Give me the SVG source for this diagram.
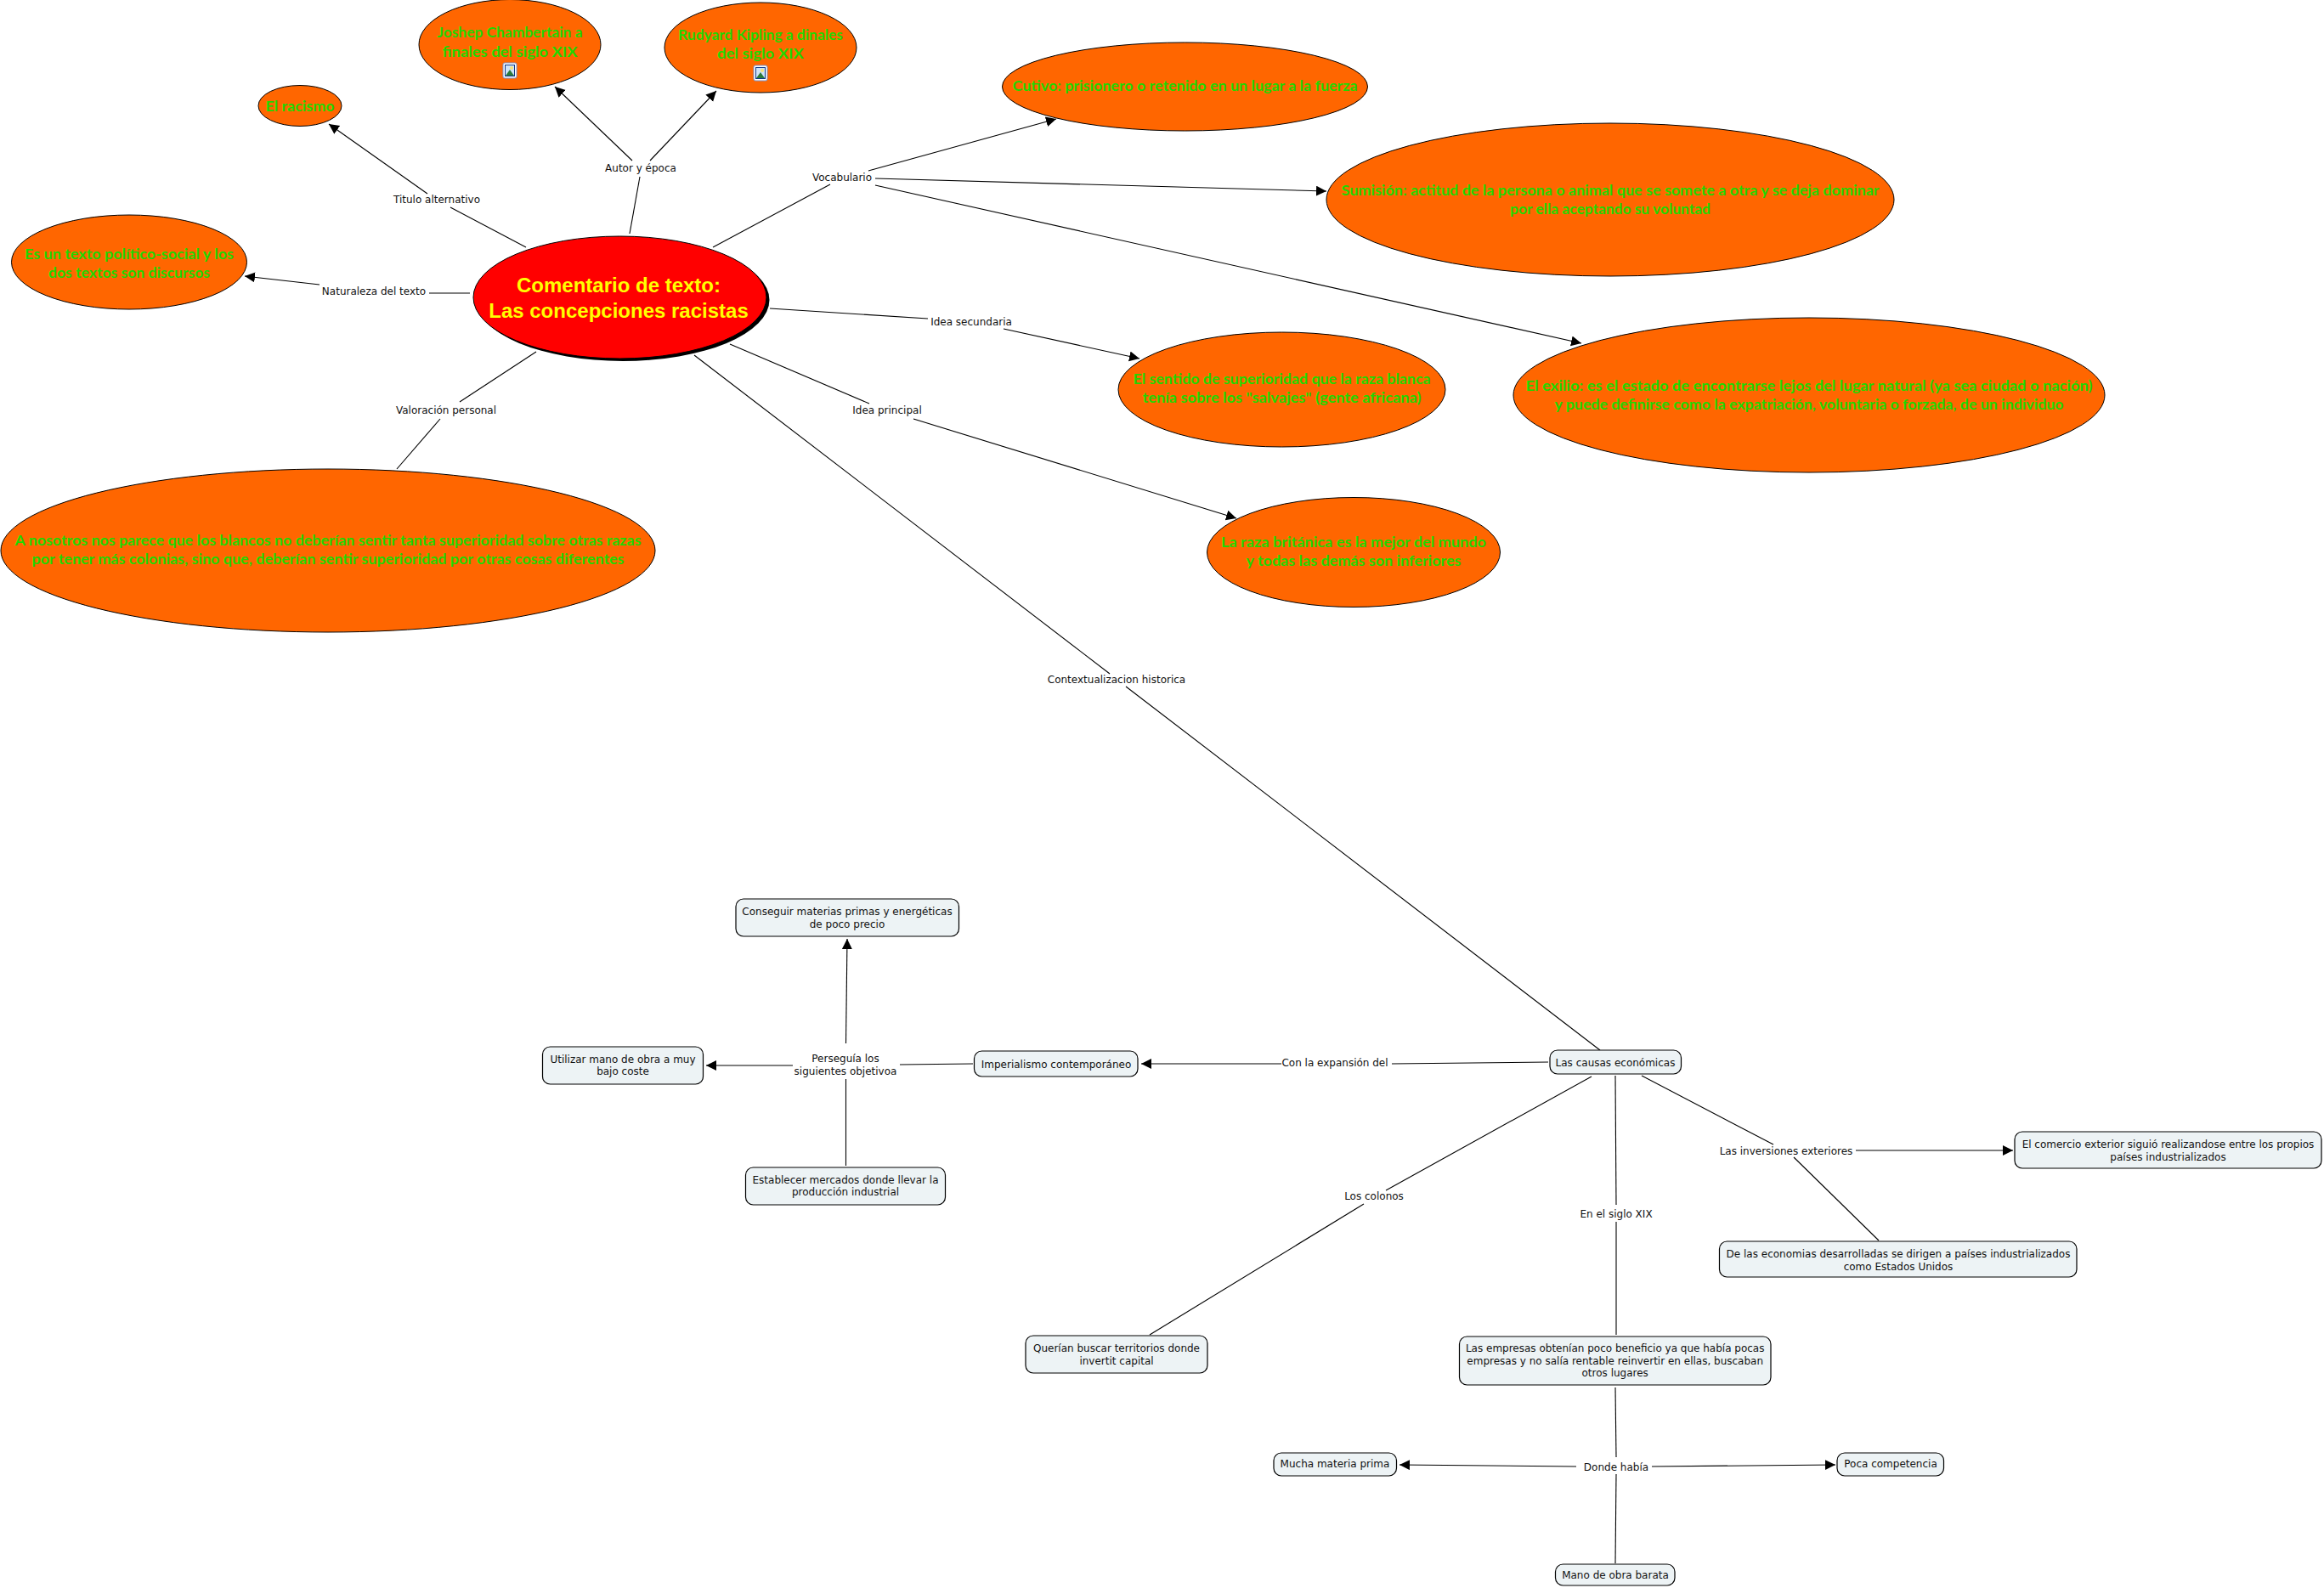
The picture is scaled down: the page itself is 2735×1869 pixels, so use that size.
<svg xmlns="http://www.w3.org/2000/svg" width="2735" height="1869" viewBox="0 0 2735 1869">
<style>
.e{fill:#ff6600;stroke:#000;stroke-width:1}
.g{font-family:Lato,"Open Sans",sans-serif;font-weight:700;font-size:17px;fill:#1fd800;text-anchor:middle}
.b{fill:#edf3f5;stroke:#000;stroke-width:1.2}
.t{font-family:"DejaVu Sans","Liberation Sans",sans-serif;font-size:12px;fill:#111;text-anchor:middle}
.m{font-family:"Liberation Sans",Arial,sans-serif;font-weight:700;font-size:24px;fill:#ffff00;text-anchor:middle}
#connectors line{stroke:#000;stroke-width:1.1;fill:none}
#connectors line.a{marker-end:url(#arrow)}
</style>
<defs>
<marker id="arrow" markerUnits="userSpaceOnUse" markerWidth="14" markerHeight="14" refX="12" refY="6" orient="auto"><polygon points="0,0 12,6 0,12" fill="#000"/></marker>
<g id="pic"><rect x="0" y="0" width="16" height="18" rx="2" fill="#fff" stroke="#7f93c9" stroke-width="1"/><rect x="2.5" y="2.5" width="11" height="13" fill="#cfe3f7" stroke="#103a8a" stroke-width="1"/><circle cx="10" cy="6" r="2" fill="#f6e27a"/><polygon points="3,15 8,8 13,15" fill="#2b7a3b"/></g>
</defs>
<rect width="2735" height="1869" fill="#fff"/>
<g id="connectors">
<line x1="619" y1="291" x2="530" y2="244"/><line class="a" x1="503" y1="228" x2="387" y2="146"/>
<line x1="741" y1="275" x2="753" y2="208"/><line class="a" x1="744" y1="189" x2="653" y2="102"/><line class="a" x1="765" y1="189" x2="843" y2="107"/>
<line x1="839" y1="291" x2="977" y2="217"/><line class="a" x1="1022" y1="201" x2="1243" y2="140"/><line class="a" x1="1030" y1="210" x2="1561" y2="225"/><line class="a" x1="1030" y1="218" x2="1861" y2="404"/>
<line x1="553" y1="345" x2="505" y2="345"/><line class="a" x1="376" y1="335" x2="288" y2="325"/>
<line x1="906" y1="363" x2="1092" y2="375"/><line class="a" x1="1181" y1="387" x2="1341" y2="422"/>
<line x1="859" y1="405" x2="1023" y2="475"/><line class="a" x1="1075" y1="493" x2="1455" y2="610"/>
<line x1="631" y1="414" x2="541" y2="473"/><line x1="518" y1="493" x2="467" y2="552"/>
<line x1="817" y1="418" x2="1306" y2="793"/><line x1="1325" y1="808" x2="1883" y2="1236"/>
<line x1="1822" y1="1250" x2="1638" y2="1252"/><line class="a" x1="1508" y1="1252" x2="1343" y2="1252"/>
<line x1="1145" y1="1252" x2="1059" y2="1253"/><line class="a" x1="933" y1="1254" x2="831" y2="1254"/><line class="a" x1="995.5" y1="1228" x2="997" y2="1105"/><line x1="995.5" y1="1372" x2="995.5" y2="1270"/>
<line x1="1873" y1="1267" x2="1631" y2="1401"/><line x1="1605" y1="1417" x2="1353" y2="1571"/>
<line x1="1901" y1="1266" x2="1902" y2="1418"/><line x1="1902" y1="1438" x2="1902" y2="1571"/>
<line x1="1932" y1="1266" x2="2087" y2="1347"/><line class="a" x1="2184" y1="1354" x2="2369" y2="1354"/><line x1="2111" y1="1362" x2="2211" y2="1460"/>
<line x1="1901" y1="1633" x2="1902" y2="1715"/><line class="a" x1="1855" y1="1726" x2="1647" y2="1724"/><line class="a" x1="1944" y1="1726" x2="2160" y2="1724"/><line x1="1902" y1="1735" x2="1901" y2="1840"/>
</g>
<g id="labels">
<text class="t" x="514" y="239">Titulo alternativo</text>
<text class="t" x="754" y="202">Autor y época</text>
<text class="t" x="991" y="213">Vocabulario</text>
<text class="t" x="440" y="347">Naturaleza del texto</text>
<text class="t" x="1143" y="383">Idea secundaria</text>
<text class="t" x="1044" y="487">Idea principal</text>
<text class="t" x="525" y="487">Valoración personal</text>
<text class="t" x="1314" y="804">Contextualizacion historica</text>
<text class="t" x="1571" y="1255">Con la expansión del</text>
<text class="t" x="995" y="1250">Perseguía los</text>
<text class="t" x="995" y="1265">siguientes objetivoa</text>
<text class="t" x="1617" y="1412">Los colonos</text>
<text class="t" x="1902" y="1433">En el siglo XIX</text>
<text class="t" x="2102" y="1359">Las inversiones exteriores</text>
<text class="t" x="1902" y="1731">Donde había</text>
</g>
<g id="n-main"><ellipse cx="733" cy="353" rx="172.5" ry="72" fill="#000"/><ellipse cx="729.5" cy="350" rx="172.5" ry="72" fill="#ff0000" stroke="#000"/><text class="m" x="728" y="344">Comentario de texto:</text><text class="m" x="728" y="374">Las concepciones racistas</text></g>
<g id="n-racismo"><ellipse class="e" cx="353" cy="124.5" rx="49" ry="24"/><text class="g" x="353" y="130.5" textLength="81" lengthAdjust="spacingAndGlyphs">El racismo</text></g>
<g id="n-joshep"><ellipse class="e" cx="600" cy="52.5" rx="107" ry="53"/><text class="g" x="600" y="43.5" textLength="171" lengthAdjust="spacingAndGlyphs">Joshep Chambertain a</text><text class="g" x="600" y="66.5" textLength="159" lengthAdjust="spacingAndGlyphs">finales del siglo XIX</text><use href="#pic" x="592" y="74"/></g>
<g id="n-rudyard"><ellipse class="e" cx="895" cy="56" rx="113" ry="53"/><text class="g" x="895" y="47" textLength="194" lengthAdjust="spacingAndGlyphs">Rudyard Kipling a dinales</text><text class="g" x="895" y="69" textLength="102" lengthAdjust="spacingAndGlyphs">del siglo XIX</text><use href="#pic" x="887" y="77"/></g>
<g id="n-naturaleza"><ellipse class="e" cx="152" cy="308.5" rx="138.5" ry="55.5"/><text class="g" x="152" y="304.5" textLength="246" lengthAdjust="spacingAndGlyphs">Es un texto político-social y los</text><text class="g" x="152" y="327" textLength="190" lengthAdjust="spacingAndGlyphs">dos textos son discursos</text></g>
<g id="n-cutivo"><ellipse class="e" cx="1394.5" cy="102" rx="215" ry="52"/><text class="g" x="1394.5" y="106.5" textLength="406" lengthAdjust="spacingAndGlyphs">Cutivo: prisionero o retenido en un lugar a la fuerza</text></g>
<g id="n-sumision"><ellipse class="e" cx="1895" cy="235" rx="334" ry="90"/><text class="g" x="1895" y="229.5" textLength="633" lengthAdjust="spacingAndGlyphs">Sumisión: actitud de la persona o animal que se somete a otra y se deja dominar</text><text class="g" x="1895" y="252" textLength="236" lengthAdjust="spacingAndGlyphs">por ella aceptando su voluntad</text></g>
<g id="n-exilio"><ellipse class="e" cx="2129" cy="465" rx="348" ry="91"/><text class="g" x="2129" y="459.5" textLength="667" lengthAdjust="spacingAndGlyphs">El exilio: es el estado de encontrarse lejos del lugar natural (ya sea ciudad o nación)</text><text class="g" x="2129" y="482" textLength="599" lengthAdjust="spacingAndGlyphs">y puede definirse como la expatriación, voluntaria o forzada, de un individuo</text></g>
<g id="n-sentido"><ellipse class="e" cx="1508.5" cy="458.5" rx="192.5" ry="67.5"/><text class="g" x="1508.5" y="452" textLength="350" lengthAdjust="spacingAndGlyphs">El sentido de superioridad que la raza blanca</text><text class="g" x="1508.5" y="474" textLength="328" lengthAdjust="spacingAndGlyphs">tenía sobre los "salvajes" (gente africana)</text></g>
<g id="n-raza"><ellipse class="e" cx="1593" cy="650" rx="172.5" ry="64.5"/><text class="g" x="1593" y="643.5" textLength="312" lengthAdjust="spacingAndGlyphs">La raza británica es la mejor del mundo</text><text class="g" x="1593" y="665.5" textLength="253" lengthAdjust="spacingAndGlyphs">y todas las demás son inferiores</text></g>
<g id="n-nosotros"><ellipse class="e" cx="386" cy="648" rx="385" ry="96"/><text class="g" x="386" y="642" textLength="737" lengthAdjust="spacingAndGlyphs">A nosotros nos parece que los blancos no deberían sentir tanta superioridad sobre otras razas</text><text class="g" x="386" y="663.5" textLength="697" lengthAdjust="spacingAndGlyphs">por tener más colonias, sino que, deberían sentir superioridad por otras cosas diferentes</text></g>
<g id="n-conseguir"><rect class="b" x="866" y="1058" width="262.5" height="44" rx="9"/><text class="t" x="997" y="1077">Conseguir materias primas y energéticas</text><text class="t" x="997" y="1091.5">de poco precio</text></g>
<g id="n-utilizar"><rect class="b" x="638.5" y="1232" width="189" height="44" rx="9"/><text class="t" x="733" y="1250.5">Utilizar mano de obra a muy</text><text class="t" x="733" y="1265">bajo coste</text></g>
<g id="n-imperialismo"><rect class="b" x="1146.5" y="1237" width="192.5" height="30" rx="9"/><text class="t" x="1243" y="1256.5">Imperialismo contemporáneo</text></g>
<g id="n-establecer"><rect class="b" x="877.5" y="1374" width="235" height="44" rx="9"/><text class="t" x="995" y="1392.5">Establecer mercados donde llevar la</text><text class="t" x="995" y="1407">producción industrial</text></g>
<g id="n-causas"><rect class="b" x="1824" y="1236" width="154.5" height="28" rx="9"/><text class="t" x="1901" y="1255">Las causas económicas</text></g>
<g id="n-comercio"><rect class="b" x="2371" y="1332" width="361" height="43" rx="9"/><text class="t" x="2551.5" y="1351">El comercio exterior siguió realizandose entre los propios</text><text class="t" x="2551.5" y="1365.5">países industrializados</text></g>
<g id="n-delas"><rect class="b" x="2023.5" y="1461" width="420.5" height="42" rx="9"/><text class="t" x="2234" y="1480">De las economias desarrolladas se dirigen a países industrializados</text><text class="t" x="2234" y="1494.5">como Estados Unidos</text></g>
<g id="n-querian"><rect class="b" x="1207" y="1572" width="214" height="44" rx="9"/><text class="t" x="1314" y="1591">Querían buscar territorios donde</text><text class="t" x="1314" y="1605.5">invertit capital</text></g>
<g id="n-empresas"><rect class="b" x="1717.5" y="1573" width="366.5" height="57" rx="9"/><text class="t" x="1900.7" y="1591">Las empresas obtenían poco beneficio ya que había pocas</text><text class="t" x="1900.7" y="1605.5">empresas y no salía rentable reinvertir en ellas, buscaban</text><text class="t" x="1900.7" y="1620">otros lugares</text></g>
<g id="n-mucha"><rect class="b" x="1499" y="1710" width="144.5" height="27" rx="9"/><text class="t" x="1571" y="1727">Mucha materia prima</text></g>
<g id="n-poca"><rect class="b" x="2162" y="1710" width="125.5" height="27" rx="9"/><text class="t" x="2225" y="1727">Poca competencia</text></g>
<g id="n-mano"><rect class="b" x="1830.5" y="1841" width="140.5" height="25" rx="9"/><text class="t" x="1901" y="1858">Mano de obra barata</text></g>
</svg>
